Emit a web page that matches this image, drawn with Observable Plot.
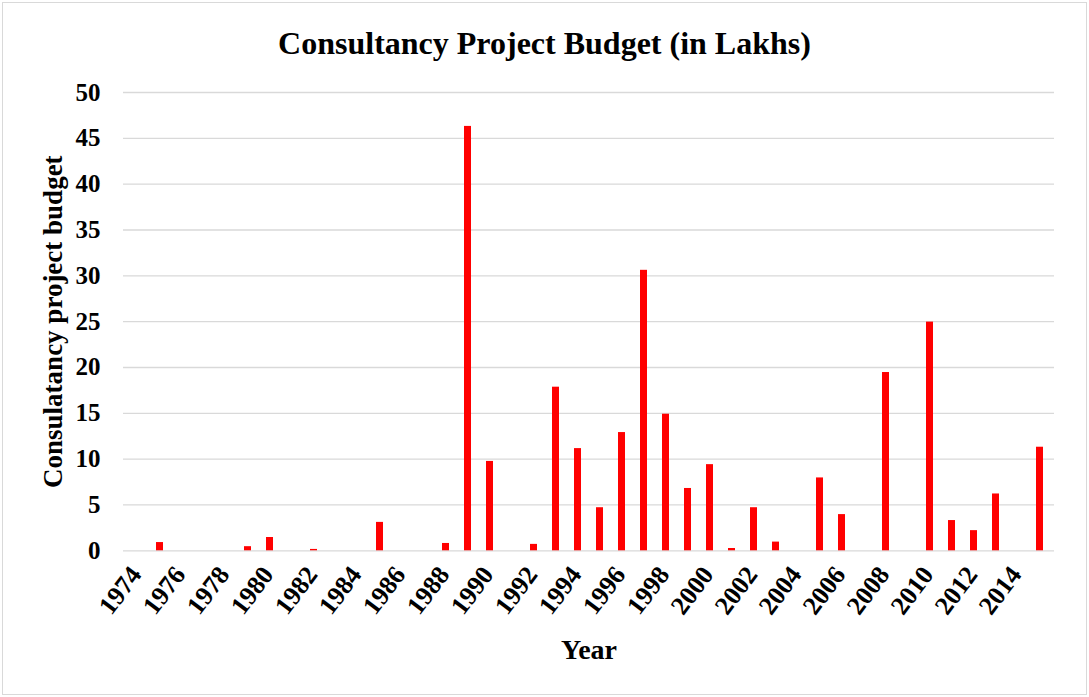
<!DOCTYPE html>
<html><head><meta charset="utf-8">
<script src="https://cdn.jsdelivr.net/npm/d3@7"></script>
<script src="https://cdn.jsdelivr.net/npm/@observablehq/plot@0.6"></script>
<style>
html,body{margin:0;padding:0;background:#fff;}
#frame{position:absolute;left:2px;top:2px;width:1085px;height:693px;box-sizing:border-box;border:1px solid #d9d9d9;}
#title{position:absolute;left:0;top:25px;width:1089px;text-align:center;font:bold 32px "Liberation Serif","Times New Roman",serif;line-height:36px;color:#000;}
#chart{position:absolute;left:0;top:72px;}
</style></head><body>
<div id="frame"></div>
<div id="title">Consultancy Project Budget (in Lakhs)</div>
<div id="chart"></div>
<script>
const years = [1974,1975,1976,1977,1978,1979,1980,1981,1982,1983,1984,1985,1986,1987,1988,1989,1990,1991,1992,1993,1994,1995,1996,1997,1998,1999,2000,2001,2002,2003,2004,2005,2006,2007,2008,2009,2010,2011,2012,2013,2014,2015];
const budgets = [0,0.9,0,0,0,0.45,1.45,0,0.15,0,0,3.1,0,0,0.8,46.3,9.75,0,0.7,17.85,11.15,4.7,12.9,30.6,14.9,6.8,9.4,0.25,4.7,0.95,0,7.95,3.95,0,19.45,0,24.95,3.3,2.2,6.2,0,11.3];
const yTicks = [0,5,10,15,20,25,30,35,40,45,50];
const xTickYears = [1974,1976,1978,1980,1982,1984,1986,1988,1990,1992,1994,1996,1998,2000,2002,2004,2006,2008,2010,2012,2014];
const xTitle = "Year";
const yTitle = "Consulatancy project budget";
const data = years.map((year,i)=>({year, budget: budgets[i]}));
const chart = Plot.plot({
  width:1089, height:625,
  marginTop:20, marginBottom:146.7, marginLeft:123, marginRight:35,
  style:{fontFamily:'"Liberation Serif","Times New Roman",serif', fontSize:"25px", fontWeight:"bold", color:"#000", background:"transparent", overflow:"visible"},
  x:{type:"band", domain: years, paddingInner:0.67, paddingOuter:0.335, align:0.5},
  y:{domain:[0,50]},
  marks:[
    Plot.gridY(yTicks, {stroke:"#d9d9d9", strokeOpacity:1, strokeWidth:1.3}),
    Plot.barY(data,{x:"year", y:"budget", fill:"#ff0000"}),
    Plot.axisY(yTicks,{tickSize:0, tickPadding:23, fontSize:25, label:null}),
    Plot.axisX(xTickYears,{tickSize:0, tickPadding:19, tickRotate:-53, fontSize:26, dx:-2, tickFormat:d=>`${d}`, label:null}),
    Plot.text([xTitle],{text:d=>d, frameAnchor:"bottom", dy:108, lineAnchor:"bottom", fontSize:28}),
    Plot.text([yTitle],{text:d=>d, frameAnchor:"left", dx:-81, rotate:-90, textAnchor:"middle", lineAnchor:"top", fontSize:27})
  ]
});
document.getElementById("chart").appendChild(chart);
</script>
</body></html>
